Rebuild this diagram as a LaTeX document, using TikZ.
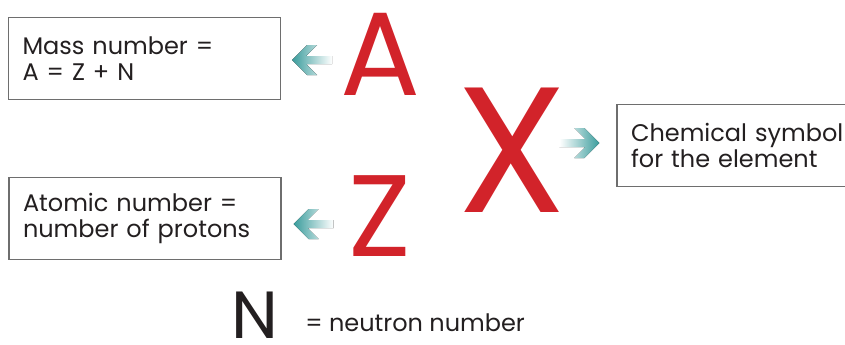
\documentclass[tikz,border=0pt]{standalone}
\usepackage{fontspec}
\setmainfont{Poppins}
\usetikzlibrary{calc}
\definecolor{symred}{RGB}{210,35,42}
\definecolor{arrowteal}{RGB}{58,156,156}
\definecolor{boxgray}{RGB}{110,110,110}
\definecolor{inkdark}{RGB}{35,31,32}
\tikzset{
    infobox/.style={draw=boxgray, line width=0.8pt, inner xsep=10.5pt, minimum height=62pt, align=left, text=inkdark, font=\fontsize{18}{19.5}\selectfont},
    bigletter/.style={inner sep=0pt, anchor=base, text=symred},
}
\newcommand{\fadearrow}[3]{%
  \fill[#3, shift={(#1)}, xscale=#2] (0,0) -- (15,-15) -- (25,-15) -- (14,-4) -- (40,-4)
    -- (40,4) -- (14,4) -- (25,15) -- (15,15) -- cycle;
}

\begin{document}
\begin{tikzpicture}[x=0.75pt, y=-0.75pt]
\useasboundingbox (0,0) rectangle (845,344);

% text boxes
\node[infobox, minimum width=204pt, text width=183pt] (massbox) at (144.5,58.5) {Mass number =\\A = Z + N};
\node[infobox, minimum width=204pt, text width=183pt] (atomicbox) at (145,218.5) {Atomic number =\\number of protons};
\node[infobox, minimum width=180pt, text width=165pt] (symbolbox) at (741,145.5) {Chemical symbol\\for the element};

% the symbol letters
\node[bigletter, font=\fontsize{89}{89}\selectfont] (A) at (380,95) {A};
\node[bigletter, font=\fontsize{87}{87}\selectfont] (Z) at (380,256) {Z};
\node[bigletter, font=\fontsize{134}{134}\selectfont] (X) at (512,212) {X};
\node[bigletter, text=inkdark, font=\fontsize{50}{50}\selectfont] (N) at (255,338) {N};
\node[anchor=base west, inner sep=0pt, text=inkdark, font=\fontsize{18}{19.5}\selectfont] (neutron) at (305,331) {= neutron number};

% arrows
\coordinate (massTip) at ($(massbox.east)+(11,1.5)$);
\coordinate (atomicTip) at ($(atomicbox.east)+(12,5.5)$);
\coordinate (symbolTip) at ($(symbolbox.west)+(-17,-2.5)$);
\fadearrow{massTip}{1}{left color=arrowteal, right color=white}
\fadearrow{atomicTip}{1}{left color=arrowteal, right color=white}
\fadearrow{symbolTip}{-1}{left color=white, right color=arrowteal}

\end{tikzpicture}
\end{document}
